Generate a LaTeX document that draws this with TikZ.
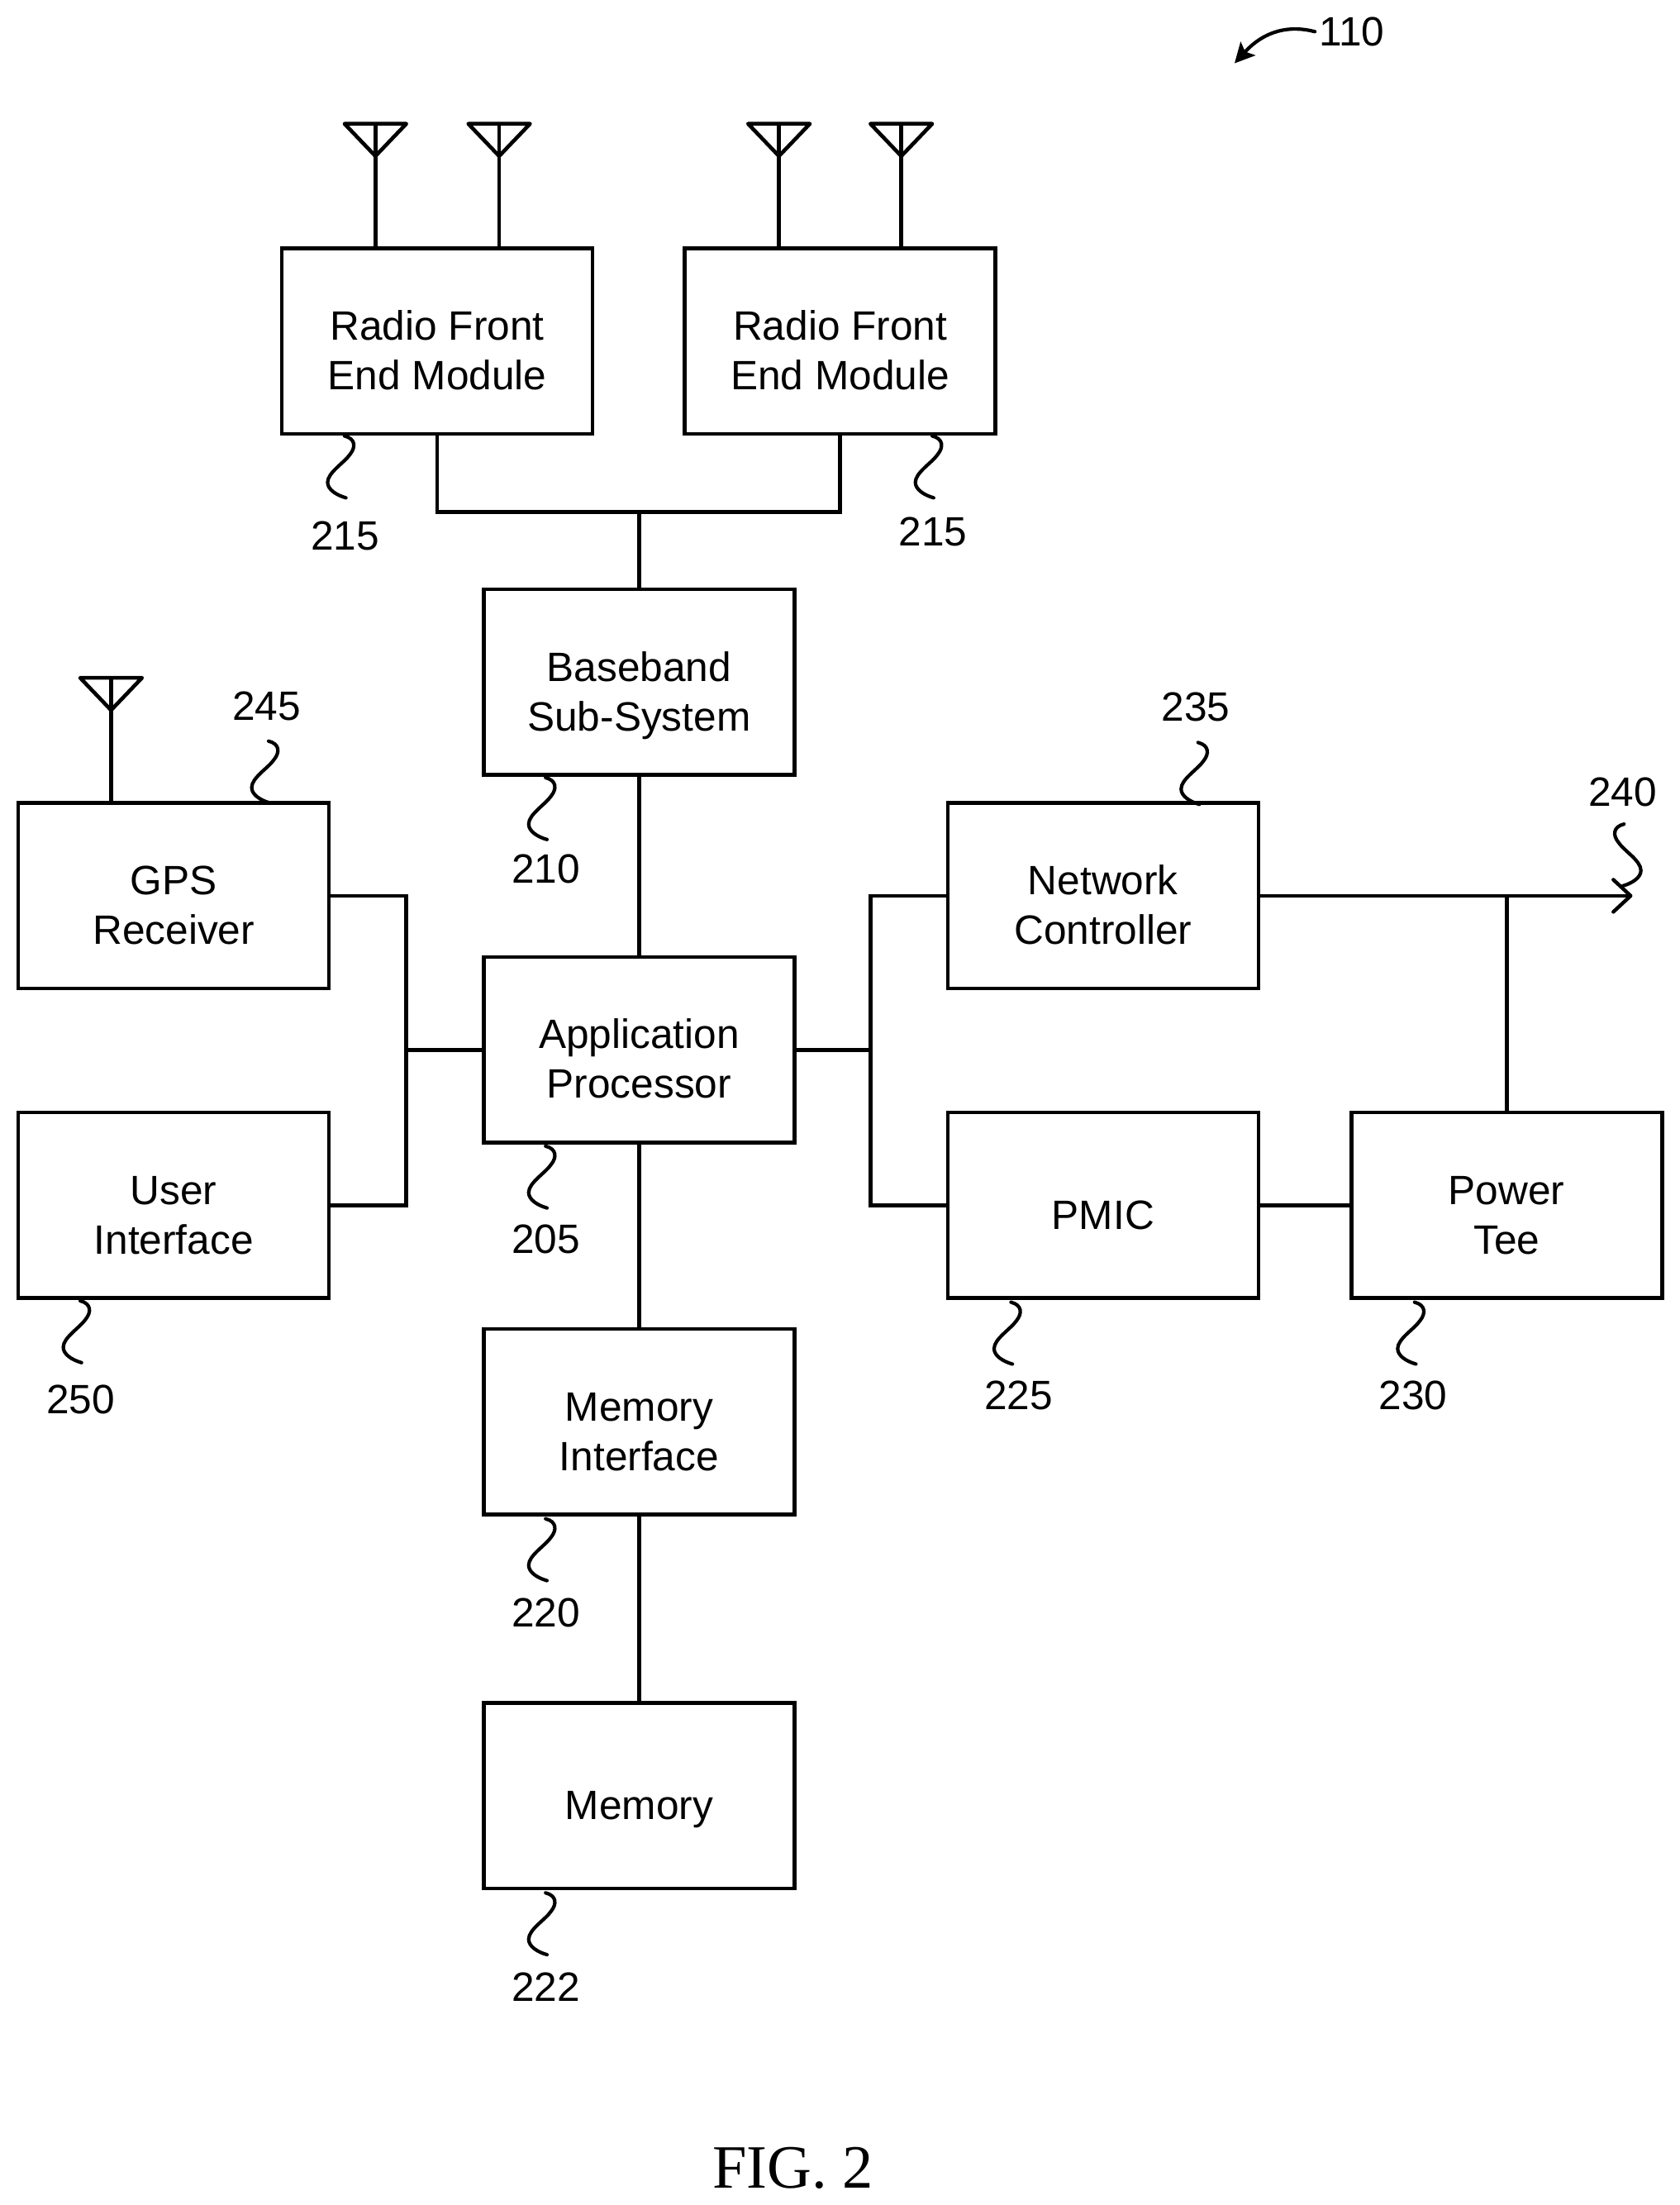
\documentclass[tikz,border=0pt]{standalone}
\usepackage{fontspec}
\setmainfont{Liberation Sans}
\newfontfamily\figfont{Liberation Serif}
\usetikzlibrary{arrows.meta}
\newcommand{\blocktext}[1]{\raisebox{-23pt}[0pt][0pt]{\begin{tabular}{@{}c@{}}#1\end{tabular}}}
\tikzset{
  blockbox/.style={draw,line width=4.6pt,line join=miter,minimum width=376pt,minimum height=224.6pt,inner sep=0pt,outer sep=0pt,font=\fontsize{49.6}{60}\selectfont},
  conn/.style={line width=4.6pt,line join=miter},
  reflabel/.style={inner sep=0pt,font=\fontsize{49.6}{60}\selectfont},
  leader/.style={line width=4.2pt,line cap=round},
  ant/.style={line width=4.6pt,line join=round,line cap=round},
  squig/.pic={\draw[leader] (0,0) .. controls (8,2) and (8,8) .. (4,13) .. controls (0,19) and (-12,26) .. (-12,33) .. controls (-12,38) and (-6,42) .. (1,44);}
}
\begin{document}
\begin{tikzpicture}[x=1.7015pt,y=-1.7015pt]
\useasboundingbox (0,0) rectangle (1194.8,1568);
% blocks
\node[blockbox] (rf1) at (311,242.5) {\blocktext{Radio Front\\End Module}};
\node[blockbox] (rf2) at (597.5,242.5) {\blocktext{Radio Front\\End Module}};
\node[blockbox] (bb) at (454.5,485) {\blocktext{Baseband\\Sub-System}};
\node[blockbox] (ap) at (454.5,746.5) {\blocktext{Application\\Processor}};
\node[blockbox] (mi) at (454.5,1011) {\blocktext{Memory\\Interface}};
\node[blockbox] (mem) at (454.5,1277) {\blocktext{Memory}};
\node[blockbox] (gps) at (123.5,637) {\blocktext{GPS\\Receiver}};
\node[blockbox] (ui) at (123.5,857) {\blocktext{User\\Interface}};
\node[blockbox] (nc) at (784.5,637) {\blocktext{Network\\Controller}};
\node[blockbox] (pmic) at (784.5,857) {\blocktext{PMIC}};
\node[blockbox] (pt) at (1071.5,857) {\blocktext{Power\\Tee}};
% junctions and free ends
\coordinate (jt) at (454.5,364);
\coordinate (jl) at (289,746.5);
\coordinate (jr) at (619,746.5);
\coordinate (out) at (1161,637);
\coordinate (a1) at (267,88);
\coordinate (a2) at (355,88);
\coordinate (a3) at (554,88);
\coordinate (a4) at (641,88);
\coordinate (a5) at (79,482);
% connectors
\draw[conn] (rf1.south) |- (jt) -| (rf2.south);
\draw[conn] (jt) -- (bb.north);
\draw[conn] (bb.south) -- (ap.north);
\draw[conn] (ap.south) -- (mi.north);
\draw[conn] (mi.south) -- (mem.north);
\draw[conn] (gps.east) -| (jl);
\draw[conn] (ui.east) -| (jl);
\draw[conn] (jl) -- (ap.west);
\draw[conn] (nc.west) -| (jr);
\draw[conn] (pmic.west) -| (jr);
\draw[conn] (jr) -- (ap.east);
\draw[conn] (pmic.east) -- (pt.west);
\draw[conn] (pt.north) -- (pt.north |- nc.east);
\draw[conn,-{Straight Barb[length=21pt,width=39pt,line width=4.4pt,round]}] (nc.east) -- (out);
% antennas
\foreach \a/\b in {a1/rf1,a2/rf1,a3/rf2,a4/rf2,a5/gps}{
  \draw[conn] (\a) -- (\a |- \b.north);
  \draw[ant] (\a) ++(-22,0) -- ++(44,0) -- ++(-22,23) -- cycle;
}
% leaders
\pic at (245,310) {squig};
\pic at (663,310) {squig};
\pic at (388,553) {squig};
\pic at (388,815) {squig};
\pic at (388,1080) {squig};
\pic at (388,1346) {squig};
\pic at (57,925) {squig};
\pic at (719,926) {squig};
\pic at (1006,926) {squig};
\pic at (191,527) {squig};
\pic at (852,528) {squig};
\pic[xscale=-1] at (1155,586) {squig};
% reference labels
\node[reflabel] (l215a) at (245.3,381) {215};
\node[reflabel] (l215b) at (663.5,378) {215};
\node[reflabel] (l245) at (189.5,502) {245};
\node[reflabel] (l210) at (388.3,618) {210};
\node[reflabel] (l235) at (850.5,503) {235};
\node[reflabel] (l240) at (1154,563) {240};
\node[reflabel] (l205) at (388.3,881) {205};
\node[reflabel] (l250) at (57.3,995) {250};
\node[reflabel] (l225) at (724.3,992.5) {225};
\node[reflabel] (l230) at (1005,992.5) {230};
\node[reflabel] (l220) at (388.3,1147) {220};
\node[reflabel] (l222) at (388.3,1413) {222};
\node[reflabel] (l110) at (961.5,22.5) {110};
\coordinate (tip110) at (878,45);
\draw[line width=4.2pt,line cap=round,-{Stealth[length=24pt,width=24pt,inset=5pt]}] (l110.west) ++(-3,0) .. controls (918,18) and (900,21) .. (tip110);
\node[inner sep=0pt,font=\figfont\fontsize{74.5}{80}\selectfont] (fig) at (564,1542) {FIG. 2};
\end{tikzpicture}
\end{document}
